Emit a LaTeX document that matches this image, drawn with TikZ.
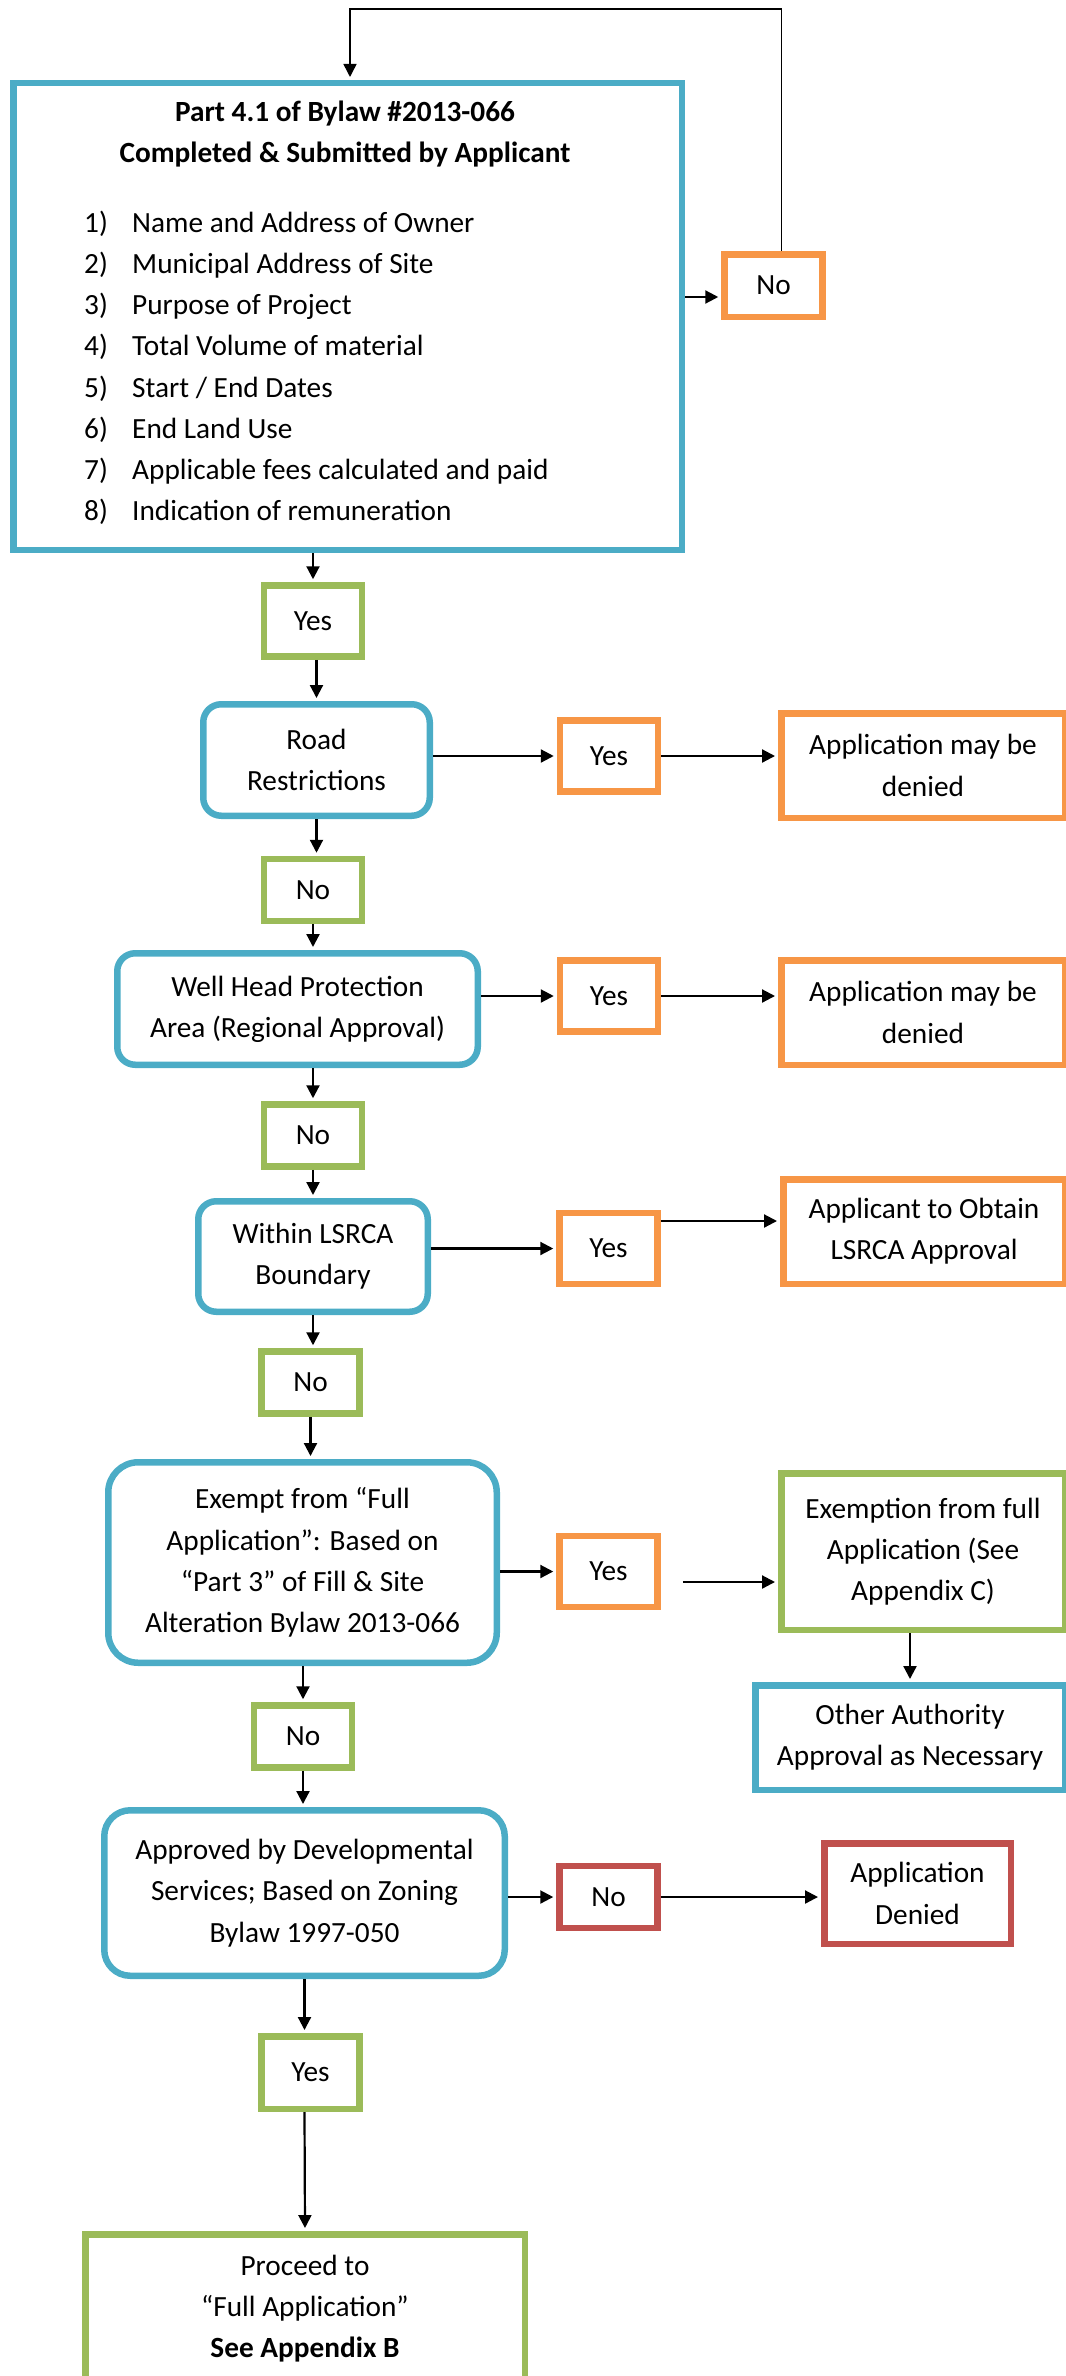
\documentclass[tikz,border=0pt]{standalone}
\usepackage{fontspec}
\setmainfont{Carlito}
\usepackage{tikz}
\usetikzlibrary{arrows.meta}

\definecolor{boxblue}{HTML}{4BACC6}
\definecolor{boxgreen}{HTML}{9BBB59}
\definecolor{boxorange}{HTML}{F79646}
\definecolor{boxred}{HTML}{C0504D}

\begin{document}
\begin{tikzpicture}[x=1pt,y=-1pt,>={Triangle[length=13pt,width=13pt]},
  every node/.style={font=\fontsize{29.3}{41.2}\selectfont,align=center,inner sep=0pt},
  frame/.style={draw=#1,line width=6.5pt},
  check node/.style={frame=boxblue,rounded corners=18pt},
  yes box/.style={frame=#1,minimum width=98pt,minimum height=71pt},
  no box/.style={frame=#1,minimum width=98pt,minimum height=62pt},
  arrowline/.style={->,line width=2.2pt,shorten >=3pt}]

  \useasboundingbox (0,0) rectangle (1065,2376);

  % form to be filled in
  \node[frame=boxblue,minimum width=668.5pt,minimum height=466.5pt] (form) at (347.5,316.5) {};
  \node[font=\fontsize{29.3}{41.2}\selectfont\bfseries] (formtitle) at (345,134)
    {Part 4.1 of Bylaw \#2013-066\\Completed \& Submitted by Applicant};
  \foreach \entry [count=\k] in {Name and Address of Owner,Municipal Address of Site,
      Purpose of Project,Total Volume of material,Start / End Dates,End Land Use,
      Applicable fees calculated and paid,Indication of remuneration}
  {
    \node[anchor=base west] (num\k) at (84,{191.3+41.14*\k}) {\k)};
    \node[anchor=base west] (entry\k) at (132,{191.3+41.14*\k}) {\entry};
  }
  \node[no box=boxorange,minimum height=62.5pt] (no0) at (773.5,285.5) {No};

  % checks
  \node[yes box=boxgreen] (yes1) at (313,621) {Yes};
  \node[check node,minimum width=226.5pt,minimum height=111.5pt] (road) at (316.5,760) {Road\\Restrictions};
  \node[yes box=boxorange] (yes2) at (609,756) {Yes};
  \node[frame=boxorange,minimum width=283.5pt,minimum height=104.5pt] (deny1) at (923,765.5) {Application may be\\denied};

  \node[no box=boxgreen] (no2) at (313,890) {No};
  \node[check node,minimum width=360.5pt,minimum height=111.5pt] (well) at (297.5,1009) {Well Head Protection\\Area (Regional Approval)};
  \node[yes box=boxorange] (yes3) at (609,996) {Yes};
  \node[frame=boxorange,minimum width=283.5pt,minimum height=104.5pt] (deny2) at (923,1012.5) {Application may be\\denied};

  \node[no box=boxgreen] (no3) at (313,1135.5) {No};
  \node[check node,minimum width=229.5pt,minimum height=110.5pt] (lsrca) at (313,1256.5) {Within LSRCA\\Boundary};
  \node[yes box=boxorange] (yes4) at (608.5,1248.5) {Yes};
  \node[frame=boxorange,minimum width=281.5pt,minimum height=104.5pt] (lsrcaok) at (924,1231.5) {Applicant to Obtain\\LSRCA Approval};

  \node[no box=boxgreen] (no4) at (310.5,1382.5) {No};
  \node[check node,rounded corners=30pt,minimum width=388.5pt,minimum height=200.5pt] (exempt) at (302.5,1562.5)
    {Exempt from “Full\\Application”: Based on\\“Part 3” of Fill \& Site\\Alteration Bylaw 2013-066};
  \node[yes box=boxorange] (yes5) at (608.5,1571.5) {Yes};
  \node[frame=boxgreen,minimum width=283.5pt,minimum height=156.5pt] (exemption) at (923,1551.5) {Exemption from full\\Application (See\\Appendix C)};
  \node[frame=boxblue,minimum width=309.5pt,minimum height=104.5pt] (other) at (910,1737.5) {Other Authority\\Approval as Necessary};

  \node[no box=boxgreen] (no5) at (303,1736.5) {No};
  \node[check node,rounded corners=26pt,minimum width=400.5pt,minimum height=165.5pt] (approved) at (304.5,1893)
    {Approved by Developmental\\Services; Based on Zoning\\Bylaw 1997-050};
  \node[no box=boxred] (no6) at (608.5,1897) {No};
  \node[frame=boxred,minimum width=186.5pt,minimum height=100.5pt] (denied) at (917.5,1893.5) {Application\\Denied};

  \node[yes box=boxgreen,minimum height=72.5pt] (yes6) at (310.5,2072.5) {Yes};
  \node[frame=boxgreen,minimum width=439.5pt,minimum height=148.5pt] (proceed) at (305,2308.5)
    {Proceed to\\“Full Application”\\\textbf{See Appendix B}};

  % loop back to the form
  \coordinate (loopturn) at (350,9);
  \draw[arrowline,line width=1.5pt] ([xshift=8pt]no0.north) |- (loopturn) -- (loopturn |- form.north);
  \coordinate (nohook) at ([yshift=-11.5pt]no0.west);
  \draw[arrowline] (form.east |- nohook) -- (nohook);

  % main line
  \draw[arrowline] (yes1.north |- form.south) -- (yes1.north);
  \draw[arrowline] (road.north |- yes1.south) -- (road.north);
  \draw[arrowline] (road.south) -- (road.south |- no2.north);
  \draw[arrowline] (no2.south) -- (no2.south |- well.north);
  \draw[arrowline] (no3.north |- well.south) -- (no3.north);
  \draw[arrowline] (lsrca.north |- no3.south) -- (lsrca.north);
  \draw[arrowline] (lsrca.south) -- (lsrca.south |- no4.north);
  \draw[arrowline] (no4.south) -- (no4.south |- exempt.north);
  \draw[arrowline] (no5.north |- exempt.south) -- (no5.north);
  \draw[arrowline] (no5.south) -- (no5.south |- approved.north);
  \draw[arrowline] (approved.south) -- (approved.south |- yes6.north);
  \draw[arrowline] (approved.south |- yes6.south) -- (proceed.north);

  % side branches
  \draw[arrowline] (road.east |- yes2.west) -- (yes2.west);
  \draw[arrowline] (yes2.east) -- (yes2.east -| deny1.west);
  \draw[arrowline] (well.east |- yes3.west) -- (yes3.west);
  \draw[arrowline] (yes3.east) -- (yes3.east -| deny2.west);
  \draw[arrowline] (lsrca.east |- yes4.west) -- (yes4.west);
  \coordinate (okhook) at ([yshift=27.5pt]yes4.east);
  \draw[arrowline] (okhook) -- (okhook -| lsrcaok.west);
  \draw[arrowline] (exempt.east |- yes5.west) -- (yes5.west);
  \coordinate (exhook) at ([xshift=22pt,yshift=-10.5pt]yes5.east);
  \draw[arrowline] (exhook) -- (exhook -| exemption.west);
  \draw[arrowline] (other.north |- exemption.south) -- (other.north);
  \draw[arrowline] (approved.east |- no6.west) -- (no6.west);
  \draw[arrowline] (no6.east) -- (no6.east -| denied.west);
\end{tikzpicture}
\end{document}
